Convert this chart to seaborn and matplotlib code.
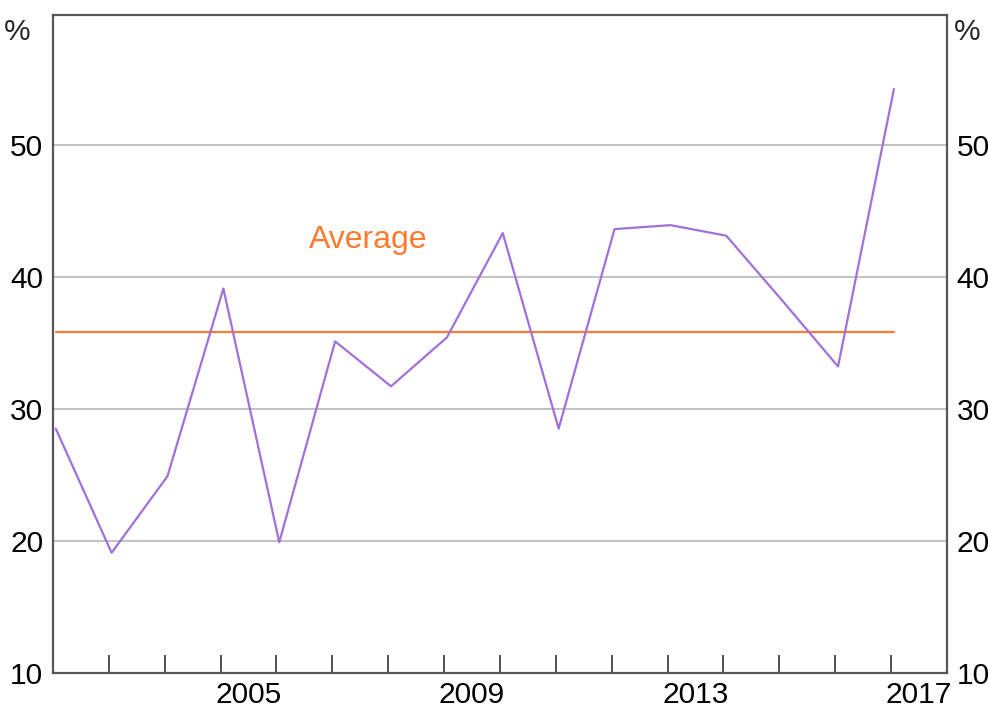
import matplotlib
matplotlib.use("Agg")
import matplotlib.pyplot as plt
import seaborn as sns
import pandas as pd
import numpy as np

years = [2002, 2003, 2004, 2005, 2006, 2007, 2008, 2009, 2010, 2011,
         2012, 2013, 2014, 2015, 2016, 2017]
share = [28.5, 19.1, 24.9, 39.1, 19.9, 35.1, 31.7, 35.4, 43.3, 28.5,
         43.6, 43.9, 43.1, 38.2, 33.2, 54.2]
average = 35.8
y_ticks = [10, 20, 30, 40, 50]
x_labels = [2005, 2009, 2013, 2017]

sns.set_theme(style="white")
plt.rcParams['font.family'] = ['Liberation Sans', 'DejaVu Sans']

purple = "#A270DA"
orange = "#FF7A2F"
fs = 21.5

df = pd.DataFrame({"x": [y + 0.05 for y in years], "share": share})

fig = plt.figure(figsize=(9.88, 7.19), dpi=100)
ax = fig.add_axes([0.0536, 0.064, 0.9049, 0.915])

ax.set_ylim(10, 59.8)
ax.set_xlim(2002, 2018)
for t in y_ticks[1:]:
    ax.axhline(t, color="#BDBDBD", lw=1.3, zorder=0)

sns.lineplot(data=df, x="x", y="share", ax=ax, color=purple, lw=1.6, zorder=3)
ax.plot([df["x"].iloc[0], df["x"].iloc[-1]], [average, average], color=orange, lw=1.6, zorder=2)
ax.text(2007.65, 42.75, "Average", color=orange, fontsize=23, ha="center", va="center")

ax.set_xlabel("")
ax.set_ylabel("")
ax.set_yticks(y_ticks)
ax.set_yticklabels([str(t) for t in y_ticks])
ax.tick_params(axis="y", length=0, pad=7, labelsize=fs, labelcolor="black",
               left=True, right=True, labelleft=True, labelright=True)

ax.set_xticks(list(range(2003, 2018)))
ax.set_xticklabels([])
ax.set_xticks([y + 0.5 for y in x_labels], minor=True)
ax.set_xticklabels([str(y) for y in x_labels], minor=True)
ax.tick_params(axis="x", which="major", direction="in", length=13, width=1.2,
               color="#333333", bottom=True)
ax.tick_params(axis="x", which="minor", length=0, pad=6, labelsize=fs,
               labelcolor="black", bottom=True)

for s in ax.spines.values():
    s.set_color("#555555")
    s.set_linewidth(1.6)
    s.set_visible(True)

ax.text(-0.025, 0.975, "%", transform=ax.transAxes, fontsize=fs, ha="right", va="center")
ax.text(1.008, 0.975, "%", transform=ax.transAxes, fontsize=fs, ha="left", va="center")

fig.savefig("out.png", dpi=100)
